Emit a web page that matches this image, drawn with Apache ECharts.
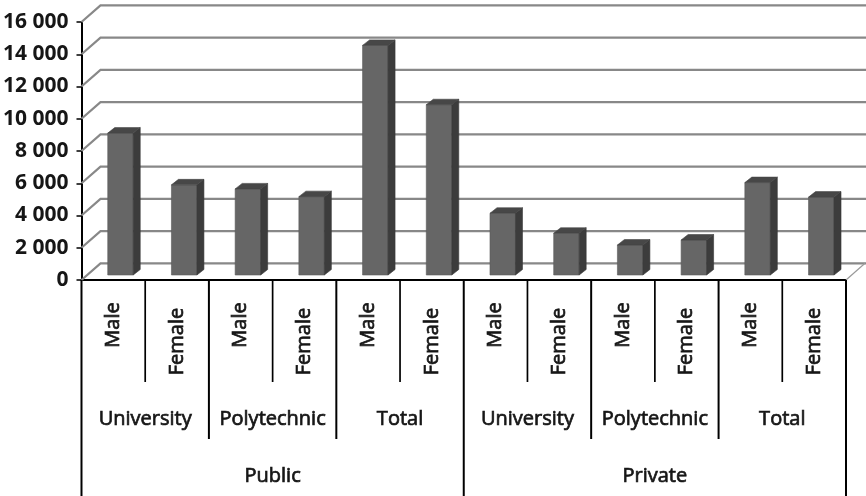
<!DOCTYPE html>
<html>
<head>
<meta charset="utf-8">
<script src="https://cdn.jsdelivr.net/npm/echarts@6/dist/echarts.min.js"></script>
<style>
  html, body { margin: 0; padding: 0; background: #fff; }
  #chart { width: 866px; height: 496px; }
</style>
</head>
<body>
<div id="chart"></div>
<script>
// Enrolment by sector, institution type and gender
const sectors = ['Public', 'Private'];
const institutions = ['University', 'Polytechnic', 'Total'];
const genders = ['Male', 'Female'];
const enrolment = [8800, 5590, 5340, 4860, 14240, 10560, 3830, 2590, 1860, 2170, 5730, 4830];
const yTicks = [0, 2000, 4000, 6000, 8000, 10000, 12000, 14000, 16000];

// One category per bar: sector / institution / gender
const categories = [];
sectors.forEach(s => institutions.forEach(t => genders.forEach(g => categories.push(s + ' ' + t + ' ' + g))));

const FONT = '"Open Sans", "Noto Sans", sans-serif';
const TEXT_COLOR = '#161616';
const DEPTH_X = 19, DEPTH_Y = 16.7;   // offset of the back wall
const BAR_DX = 7, BAR_DY = 5.5;        // visible depth of each column

function fmt(v) {
  return String(v).replace(/\B(?=(\d{3})+(?!\d))/g, ' ');
}

// Table text, slightly heavier than the regular face
function tableText(text, x, y, extra) {
  return Object.assign({
    type: 'text',
    style: {
      text: text, x: x, y: y, align: 'center', verticalAlign: 'middle',
      fill: TEXT_COLOR, font: '20px ' + FONT,
      stroke: TEXT_COLOR, lineWidth: 0.7
    }
  }, extra || {});
}

const chart = echarts.init(document.getElementById('chart'), null, { renderer: 'canvas' });

chart.setOption({
  animation: false,
  backgroundColor: '#fff',
  grid: { left: 81, right: 20, top: 22, bottom: 216 },
  xAxis: {
    type: 'category',
    data: categories,
    boundaryGap: true,
    axisLine: { show: true, lineStyle: { color: '#000', width: 2 } },
    axisTick: { show: false },
    axisLabel: { show: false },
    splitLine: { show: false }
  },
  yAxis: {
    type: 'value',
    min: 0,
    max: 16000,
    interval: 2000,
    axisLine: { show: true, lineStyle: { color: '#000', width: 2 } },
    axisTick: { show: true, length: 5, lineStyle: { color: '#000', width: 1.5 } },
    axisLabel: {
      margin: 13,
      color: TEXT_COLOR,
      fontFamily: FONT,
      fontSize: 21,
      fontWeight: 'bold',
      formatter: fmt
    },
    splitLine: { show: false }
  },
  series: [
    // Side and back walls: one gridline per tick
    {
      type: 'custom',
      z: 1,
      silent: true,
      data: yTicks.map(v => [0, v]),
      renderItem: function (params, api) {
        const cs = params.coordSys;
        const y = api.coord([0, api.value(1)])[1];
        const x0 = cs.x;
        const xr = api.getWidth();
        const children = [{
          type: 'polyline',
          shape: { points: [[x0, y], [x0 + DEPTH_X, y - DEPTH_Y], [xr, y - DEPTH_Y]] },
          style: { stroke: '#888888', lineWidth: 2.2, fill: null }
        }];
        if (api.value(1) === 0) {
          children.push({
            type: 'line',
            shape: { x1: cs.x + cs.width, y1: y, x2: cs.x + cs.width + DEPTH_X, y2: y - DEPTH_Y },
            style: { stroke: '#9a9a9a', lineWidth: 1.2 }
          });
        }
        return { type: 'group', children: children };
      }
    },
    // 3D-looking columns
    {
      type: 'custom',
      z: 3,
      data: enrolment.map((v, i) => [i, v]),
      renderItem: function (params, api) {
        const i = api.value(0);
        const base = api.coord([i, 0]);
        const top = api.coord([i, api.value(1)]);
        const bw = api.size([1, 0])[0];
        const h = base[1] - top[1];
        const yb = base[1] - 5;
        const yt = yb - h;
        const xl = base[0] - 0.088 * bw;
        const w = 0.40 * bw;
        return {
          type: 'group',
          children: [
            {
              type: 'rect',
              shape: { x: xl, y: yt, width: w, height: h },
              style: { fill: '#666666', stroke: '#5a5a5a', lineWidth: 0.6 }
            },
            {
              type: 'polygon',
              shape: { points: [[xl + w, yt], [xl + w + BAR_DX, yt - BAR_DY], [xl + w + BAR_DX, yb - BAR_DY], [xl + w, yb]] },
              style: { fill: '#3c3c3c', stroke: '#383838', lineWidth: 0.6 }
            },
            {
              type: 'polygon',
              shape: { points: [[xl, yt], [xl + BAR_DX, yt - BAR_DY], [xl + w + BAR_DX, yt - BAR_DY], [xl + w, yt]] },
              style: { fill: '#474747', stroke: '#444', lineWidth: 0.6 }
            }
          ]
        };
      }
    },
    // Multi-level category table under the axis
    {
      type: 'custom',
      z: 4,
      silent: true,
      data: categories.map((c, i) => [i, 0]),
      renderItem: function (params, api) {
        const i = api.value(0);
        const p = api.coord([i, 0]);
        const bw = api.size([1, 0])[0];
        const y0 = p[1];
        const bottom = api.getHeight();
        const xL = p[0] - bw / 2;
        const perSector = institutions.length * genders.length;
        const children = [];

        let yEnd;
        if (i % perSector === 0) yEnd = bottom;
        else if (i % genders.length === 0) yEnd = y0 + 159;
        else yEnd = y0 + 102;
        children.push({
          type: 'line',
          shape: { x1: xL, y1: y0, x2: xL, y2: yEnd },
          style: { stroke: '#000', lineWidth: i % genders.length === 0 ? 2 : 1.7 }
        });
        if (i === categories.length - 1) {
          children.push({
            type: 'line',
            shape: { x1: xL + bw, y1: y0, x2: xL + bw, y2: bottom },
            style: { stroke: '#000', lineWidth: 2 }
          });
        }

        const g = genders[i % genders.length];
        const t = tableText(g, 0, 0, {
          x: p[0],
          y: y0 + (g === 'Male' ? 45 : 61.5),
          rotation: Math.PI / 2
        });
        children.push(t);

        if (i % genders.length === 0) {
          const inst = institutions[Math.floor(i / genders.length) % institutions.length];
          children.push(tableText(inst, xL + bw, y0 + 139));
        }
        if (i % perSector === 0) {
          const sec = sectors[Math.floor(i / perSector)];
          children.push(tableText(sec, xL + bw * perSector / 2, y0 + 196));
        }
        return { type: 'group', children: children };
      }
    }
  ]
});
</script>
</body>
</html>
